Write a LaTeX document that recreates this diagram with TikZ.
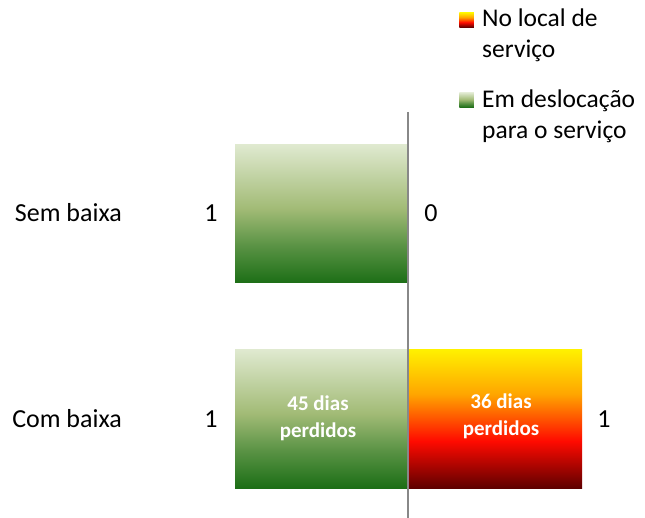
\documentclass[tikz,border=0pt]{standalone}
\usepackage{fontspec}
\setmainfont{Carlito}
\definecolor{gtop}{RGB}{223,233,207}
\definecolor{gmid}{RGB}{162,187,118}
\definecolor{glow}{RGB}{92,148,70}
\definecolor{gbot}{RGB}{28,110,22}
\definecolor{ryel}{RGB}{255,240,0}
\definecolor{rora}{RGB}{255,165,0}
\definecolor{rred}{RGB}{255,10,0}
\definecolor{rdark}{RGB}{95,0,0}
\definecolor{axisgray}{RGB}{136,136,136}
\pgfdeclareverticalshading{greenfade}{100bp}{color(0bp)=(gbot); color(25bp)=(gbot); color(39bp)=(glow); color(52bp)=(gmid); color(75bp)=(gtop); color(100bp)=(gtop)}
\pgfdeclareverticalshading{firefade}{100bp}{color(0bp)=(rdark); color(25bp)=(rdark); color(42bp)=(rred); color(59bp)=(rora); color(75bp)=(ryel); color(100bp)=(ryel)}

\begin{document}
\begin{tikzpicture}[x=1pt,y=-1pt]
\tikzstyle{bar}=[rectangle, inner sep=0pt, minimum height=138, shade]
\tikzstyle{key}=[rectangle, inner sep=0pt, minimum size=14.5, shade]
\tikzstyle{lbl}=[inner sep=0pt, font=\fontsize{26}{31}\selectfont]
\tikzstyle{keytxt}=[inner sep=0pt, align=left, font=\fontsize{25.5}{31}\selectfont]
\tikzstyle{lost}=[inner sep=0pt, align=center, text=white, font=\bfseries\fontsize{21}{27}\selectfont]
\useasboundingbox (0,0) rectangle (645,518);

% bars
\node[bar, shading=greenfade, minimum width=172] (semleft) at (321,214) {};
\node[bar, shading=greenfade, minimum width=172] (comleft) at (321,419) {};
\node[bar, shading=firefade, minimum width=173] (comright) at (495.5,419) {};

% axis
\coordinate (axtop) at (408,112);
\coordinate (axbot) at (408,518);
\draw[axisgray, line width=2pt] (axtop) -- (axbot);

% texts in the bars
\node[lost] (lostleft) at (318,418) {45 dias\\perdidos};
\node[lost] (lostright) at (501,416) {36 dias\\perdidos};

% categories and values
\node[lbl, anchor=base east] (sem) at (122,222) {Sem baixa};
\node[lbl, anchor=base east] (com) at (122,427) {Com baixa};
\node[lbl, anchor=base] (semone) at (211,222) {1};
\node[lbl, anchor=base] (semzero) at (431,222) {0};
\node[lbl, anchor=base] (comone) at (211,427) {1};
\node[lbl, anchor=base] (comtwo) at (604,427) {1};

% legend (base = last line)
\node[key, shading=firefade] (keyfire) at (466.5,20) {};
\node[keytxt, anchor=base west] (keyfiretxt) at (482,58) {No local de\\serviço};
\node[key, shading=greenfade] (keygreen) at (466.5,100) {};
\node[keytxt, anchor=base west] (keygreentxt) at (482,139) {Em deslocação\\para o serviço};
\end{tikzpicture}
\end{document}
